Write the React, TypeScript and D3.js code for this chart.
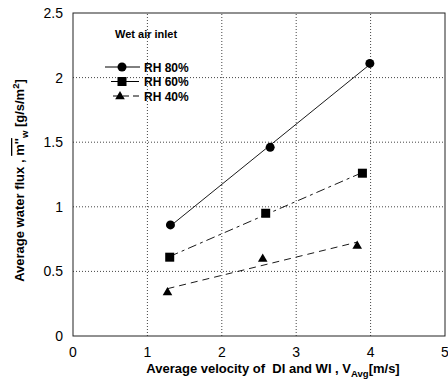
import * as d3 from "d3";

// measured values
const velocity80 = [1.31, 2.65, 3.99];
const flux80 = [0.86, 1.46, 2.11];
const velocity60 = [1.3, 2.59, 3.89];
const flux60 = [0.61, 0.95, 1.26];
const velocity40 = [1.27, 2.55, 3.82];
const flux40 = [0.34, 0.6, 0.7];

const seriesNames = ["RH 80%", "RH 60%", "RH 40%"];
const xTicks = [0, 1, 2, 3, 4, 5];
const yTicks = [0, 0.5, 1, 1.5, 2, 2.5];
const legendTitle = "Wet air inlet";

const W = 448;
const H = 383;
const margin = { top: 13, right: 3, bottom: 47, left: 73 };

const font = "Arial, 'Liberation Sans', Helvetica, sans-serif";

function fit(xs: number[], ys: number[]) {
    const mx = d3.mean(xs)!;
    const my = d3.mean(ys)!;
    const sxy = d3.sum(xs, (x, i) => (x - mx) * (ys[i] - my));
    const sxx = d3.sum(xs, (x) => (x - mx) * (x - mx));
    const b = sxy / sxx;
    const a = my - b * mx;
    const x0 = d3.min(xs)!;
    const x1 = d3.max(xs)!;
    return [
        [x0, a + b * x0],
        [x1, a + b * x1],
    ] as [number, number][];
}

export default function App() {
    const x = d3.scaleLinear().domain([0, 5]).range([margin.left, W - margin.right]);
    const y = d3.scaleLinear().domain([0, 2.5]).range([H - margin.bottom, margin.top]);
    const line = d3
        .line<[number, number]>()
        .x((d) => x(d[0]))
        .y((d) => y(d[1]));

    const series = [
        { name: seriesNames[0], xs: velocity80, ys: flux80, dash: "none", marker: "circle" },
        { name: seriesNames[1], xs: velocity60, ys: flux60, dash: "9,4,3,4", marker: "square" },
        { name: seriesNames[2], xs: velocity40, ys: flux40, dash: "7,5", marker: "triangle" },
    ];

    const marker = (kind: string, cx: number, cy: number, key?: string) => {
        if (kind === "circle") return <circle key={key} cx={cx} cy={cy} r={4.5} fill="#000" />;
        if (kind === "square")
            return <rect key={key} x={cx - 4.5} y={cy - 4.5} width={9} height={9} fill="#000" />;
        const tri = d3.symbol(d3.symbolTriangle, 40)()!;
        return <path key={key} d={tri} transform={`translate(${cx},${cy + 0.5})`} fill="#000" />;
    };

    const [x0, x1] = x.range();
    const [yb, yt] = y.range();

    return (
        <svg
            width={W}
            height={H}
            style={{ position: "absolute", left: 0, top: 0, background: "#fff" }}
            fontFamily={font}
        >
            {/* grid */}
            {xTicks.slice(1, -1).map((t) => (
                <line
                    key={"gx" + t}
                    x1={x(t)}
                    x2={x(t)}
                    y1={yb}
                    y2={yt}
                    stroke="#444"
                    strokeWidth={1}
                    strokeDasharray="1,2"
                />
            ))}
            {yTicks.slice(1, -1).map((t) => (
                <line
                    key={"gy" + t}
                    x1={x0}
                    x2={x1}
                    y1={y(t)}
                    y2={y(t)}
                    stroke="#444"
                    strokeWidth={1}
                    strokeDasharray="1,2"
                />
            ))}
            {/* frame */}
            <rect x={x0} y={yt} width={x1 - x0} height={yb - yt} fill="none" stroke="#222" strokeWidth={1} />

            {/* tick labels */}
            {xTicks.map((t) => (
                <text key={"xt" + t} x={x(t)} y={yb + 21} textAnchor="middle" fontSize={14} fill="#000">
                    {d3.format("~g")(t)}
                </text>
            ))}
            {yTicks.map((t) => (
                <text key={"yt" + t} x={x0 - 10} y={y(t) + 5} textAnchor="end" fontSize={14} fill="#000">
                    {d3.format("~g")(t)}
                </text>
            ))}

            {/* fitted lines and points */}
            {series.map((s) => (
                <g key={s.name}>
                    <path d={line(fit(s.xs, s.ys))!} fill="none" stroke="#000" strokeWidth={0.9} strokeDasharray={s.dash} />
                    {s.xs.map((v, i) => marker(s.marker, x(v), y(s.ys[i]), s.name + i))}
                </g>
            ))}

            {/* legend */}
            <text x={115} y={38} fontSize={11} fontWeight="bold" fill="#000">
                {legendTitle}
            </text>
            {series.map((s, i) => {
                const ly = 67 + i * 14.5;
                return (
                    <g key={"lg" + s.name}>
                        <line
                            x1={i === 0 ? 105 : i === 1 ? 111 : 113}
                            x2={i === 0 ? 140 : 139}
                            y1={ly}
                            y2={ly}
                            stroke="#000"
                            strokeWidth={1}
                            strokeDasharray={i === 2 ? "6,4" : "none"}
                        />
                        {marker(s.marker, i === 2 ? 120 : 122, ly)}
                        <text x={144} y={ly + 4.5} fontSize={12} fontWeight="bold" fill="#000">
                            {s.name}
                        </text>
                    </g>
                );
            })}

            {/* axis titles */}
            <text x={273} y={373} textAnchor="middle" fontSize={13} fontWeight="bold" fill="#000">
                Average velocity of{"\u00a0"} DI and WI , V
                <tspan fontSize={9.5} dy={4}>
                    Avg
                </tspan>
                <tspan dy={-4}>[m/s]</tspan>
            </text>
            <text
                transform={`translate(24,${(yb + yt) / 2 + 6}) rotate(-90)`}
                textAnchor="middle"
                fontSize={13}
                fontWeight="bold"
                fill="#000"
            >
                Average water flux ,{" "}
                <tspan style={{ textDecoration: "overline" }}>m''</tspan>
                <tspan fontSize={9.5} dy={4}>
                    w
                </tspan>
                <tspan dy={-4}> [g/s/m</tspan>
                <tspan fontSize={9.5} dy={-5}>
                    2
                </tspan>
                <tspan dy={5}>]</tspan>
            </text>
        </svg>
    );
}
